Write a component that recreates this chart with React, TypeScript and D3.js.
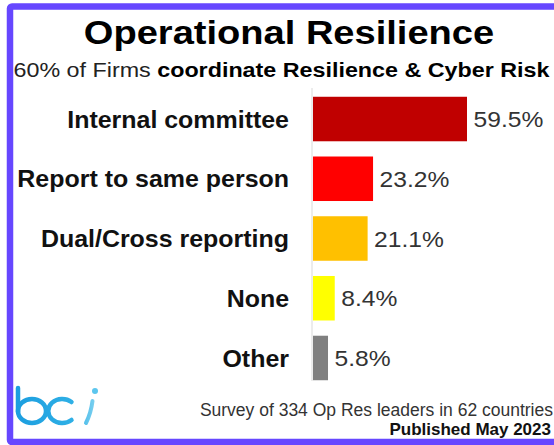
import React from "react";
import * as d3 from "d3";

const categories = [
  "Internal committee",
  "Report to same person",
  "Dual/Cross reporting",
  "None",
  "Other",
];
const values = [59.5, 23.2, 21.1, 8.4, 5.8];
const barColors = ["#c00000", "#ff0000", "#ffc000", "#ffff00", "#808080"];
const titleText = "Operational Resilience";
const subtitleRegular = "60% of Firms ";
const subtitleBold = "coordinate Resilience & Cyber Risk";
const footerLine1 = "Survey of 334 Op Res leaders in 62 countries";
const footerLine2 = "Published May 2023";

const W = 554;
const H = 445;
const FONT = "'Liberation Sans', Arial, Helvetica, sans-serif";

export default function App() {
  const x = d3.scaleLinear().domain([0, 60]).range([313, 468.3]);
  const y = d3
    .scaleBand<string>()
    .domain(categories)
    .range([89, 388])
    .paddingInner(0.255)
    .paddingOuter(0.13);
  const fmt = (v: number) => d3.format(".1f")(v) + "%";
  const bw = y.bandwidth();

  return (
    <svg
      width={W}
      height={H}
      viewBox={`0 0 ${W} ${H}`}
      style={{ position: "absolute", left: 0, top: 0, background: "#fff" }}
      fontFamily={FONT}
    >
      <defs>
        <linearGradient
          id="bciGrad"
          gradientUnits="userSpaceOnUse"
          x1={14}
          y1={0}
          x2={100}
          y2={0}
        >
          <stop offset="0%" stopColor="#1b9ddf" />
          <stop offset="70%" stopColor="#2fb0e6" />
          <stop offset="100%" stopColor="#8fd8f2" />
        </linearGradient>
      </defs>
      <rect x={0} y={0} width={W} height={H} fill="#fff" />
      {/* frame */}
      <rect
        x={10}
        y={6.5}
        width={W + 20}
        height={435.5}
        fill="none"
        stroke="#6647ff"
        strokeWidth={6.5}
        rx={2}
      />

      {/* title */}
      <text
        transform={`translate(289,44) scale(1.12,1)`}
        textAnchor="middle"
        fontSize={34}
        fontWeight="bold"
        fill="#000"
      >
        {titleText}
      </text>
      <text
        transform={`translate(281.5,77) scale(1.11,1)`}
        textAnchor="middle"
        fontSize={21}
        fill="#222"
      >
        <tspan>{subtitleRegular}</tspan>
        <tspan fontWeight="bold" fill="#000">
          {subtitleBold}
        </tspan>
      </text>

      {/* axis line */}
      <line x1={312} x2={312} y1={88} y2={381} stroke="#d9d9d9" strokeWidth={1} />

      {/* bars */}
      {categories.map((c, i) => {
        const y0 = y(c) as number;
        const cy = y0 + bw / 2;
        return (
          <g key={c}>
            <rect
              x={x(0)}
              y={y0}
              width={x(values[i]) - x(0)}
              height={bw}
              fill={barColors[i]}
            />
            <text
              transform={`translate(289,${cy + 8.6}) scale(1.04,1)`}
              textAnchor="end"
              fontSize={24}
              fontWeight="bold"
              fill="#111"
            >
              {c}
            </text>
            <text
              transform={`translate(${x(values[i]) + 6.5},${cy + 8}) scale(1.12,1)`}
              textAnchor="start"
              fontSize={22}
              fill="#333"
            >
              {fmt(values[i])}
            </text>
          </g>
        );
      })}

      {/* footer */}
      <text x={553} y={416} textAnchor="end" fontSize={17.5} fill="#333">
        {footerLine1}
      </text>
      <text x={551} y={435} textAnchor="end" fontSize={17} fontWeight="bold" fill="#111">
        {footerLine2}
      </text>

      {/* bci logo */}
      <g fill="none" stroke="url(#bciGrad)" strokeWidth={4.5} strokeLinecap="round">
        <line x1={18} y1={388} x2={18} y2={412} />
        <ellipse cx={32} cy={411} rx={14} ry={12} />
        <path d="M71.5,402 A14,12 0 1 0 71.5,420" />
        <path d="M86,423 Q91,413 92.5,401" strokeWidth={4} />
      </g>
      <circle cx={95} cy={391} r={3} fill="#5cc6ee" />
    </svg>
  );
}
